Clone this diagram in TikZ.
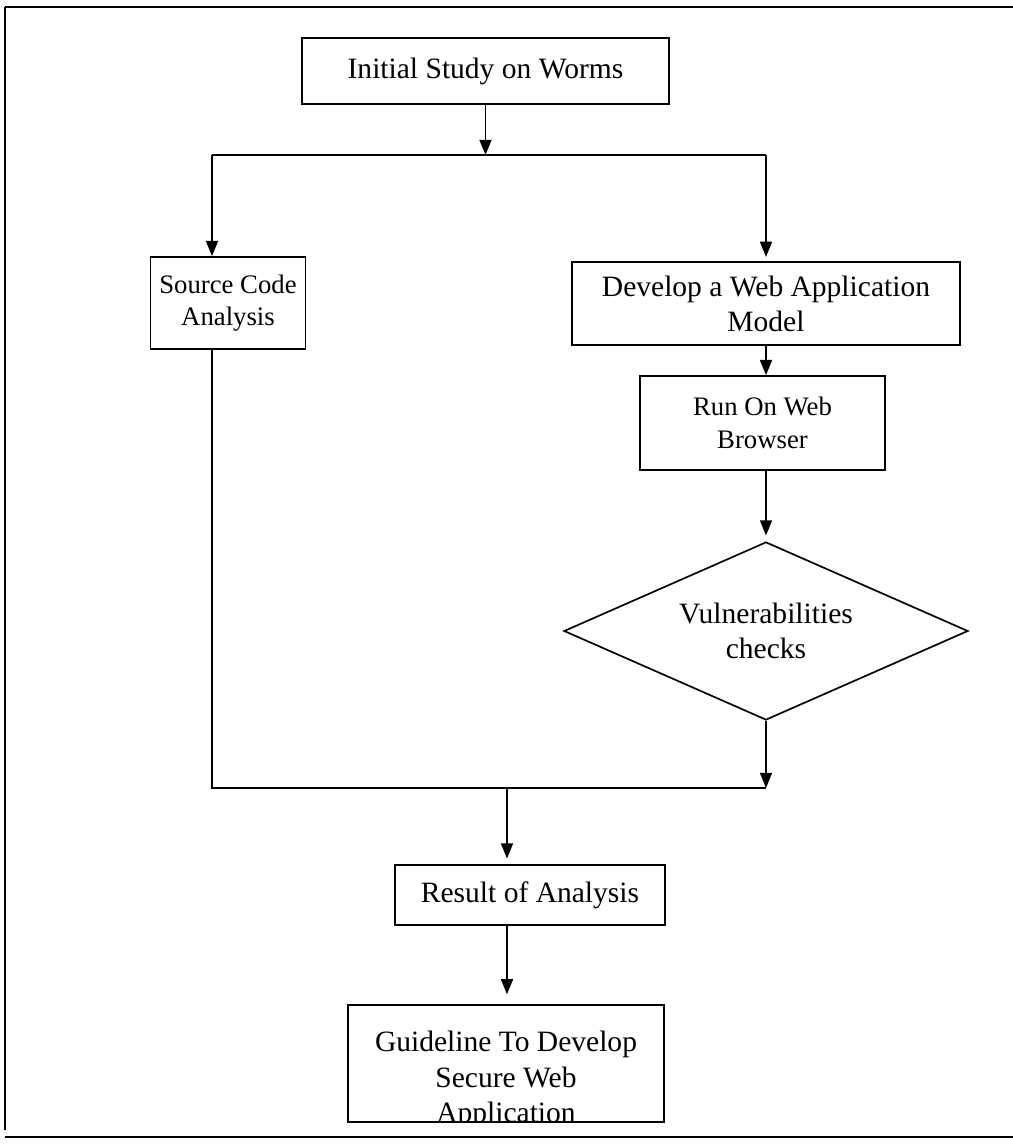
\documentclass[tikz,border=0pt]{standalone}
\usepackage{fontspec}
\setmainfont{Liberation Serif}
\usetikzlibrary{arrows.meta,shapes.geometric}

\begin{document}
\begin{tikzpicture}[x=0.025cm,y=-0.025cm,line join=miter,
  box/.style={draw,line width=1.2pt,align=center,inner sep=0pt,font=\fontsize{21}{25}\selectfont},
  smalltext/.style={font=\fontsize{19}{23}\selectfont},
  decision/.style={draw,diamond,aspect=2.27,line width=1.2pt,align=center,inner sep=0pt,font=\fontsize{21}{25}\selectfont},
  arr/.style={line width=1.2pt,-{Triangle[length=3.8mm,width=3mm]}},
  link/.style={line width=1.2pt}]
  \useasboundingbox (0,0) rectangle (1013,1145);
  % page frame
  \draw[line width=1.8pt] (5,7) -- (1013,7);
  \draw[line width=1.1pt] (5,7) -- (5,1130);
  \draw[line width=1.8pt] (5,1137) -- (1013,1137);
  % steps
  \node[box,minimum width=9.175cm,minimum height=1.65cm] (init) at (485.5,71) {Initial Study on Worms};
  \node[box,smalltext,minimum width=3.875cm,minimum height=2.3cm] (source) at (228,303) {Source Code\\Analysis};
  \node[box,minimum width=9.7cm,minimum height=2.075cm] (develop) at (766,303.5) {Develop a Web Application\\Model};
  \node[box,smalltext,minimum width=6.125cm,minimum height=2.35cm] (run) at (762.5,423) {Run On Web\\Browser};
  \node[decision,minimum width=10.1cm,minimum height=4.45cm] (check) at (766,631) {Vulnerabilities\\checks};
  \node[box,minimum width=6.75cm,minimum height=1.5cm] (result) at (530,895) {Result of Analysis};
  \node[box,minimum width=7.9cm,minimum height=2.925cm,
    path picture={\node[align=center,font=\fontsize{21}{25}\selectfont] at ([yshift=-0.41cm]path picture bounding box.center) {Guideline To Develop\\Secure Web\\Application};}] (guide) at (506,1063.5) {};
  % joints
  \coordinate (splitL) at (212,155);
  \coordinate (splitR) at (766,155);
  \coordinate (mergeL) at (212,788);
  \coordinate (mergeC) at (507,788);
  \coordinate (mergeR) at (766,788);
  % connectors
  \draw[arr] (init.south) -- (init.south |- splitL);
  \draw[link] (splitL) -- (splitR);
  \draw[arr] (splitL) -- (splitL |- source.north);
  \draw[arr,shorten >=3pt] (splitR) -- (develop.north);
  \draw[arr] (develop.south) -- (develop.south |- run.north);
  \draw[arr,shorten >=4pt] (check.north |- run.south) -- (check.north);
  \draw[arr] (check.south) -- (mergeR);
  \draw[link] (source.south -| mergeL) -- (mergeL) -- (mergeR);
  \draw[arr,shorten >=4pt] (mergeC) -- (mergeC |- result.north);
  \draw[arr,shorten >=7pt] (result.south -| mergeC) -- (mergeC |- guide.north);
\end{tikzpicture}
\end{document}
